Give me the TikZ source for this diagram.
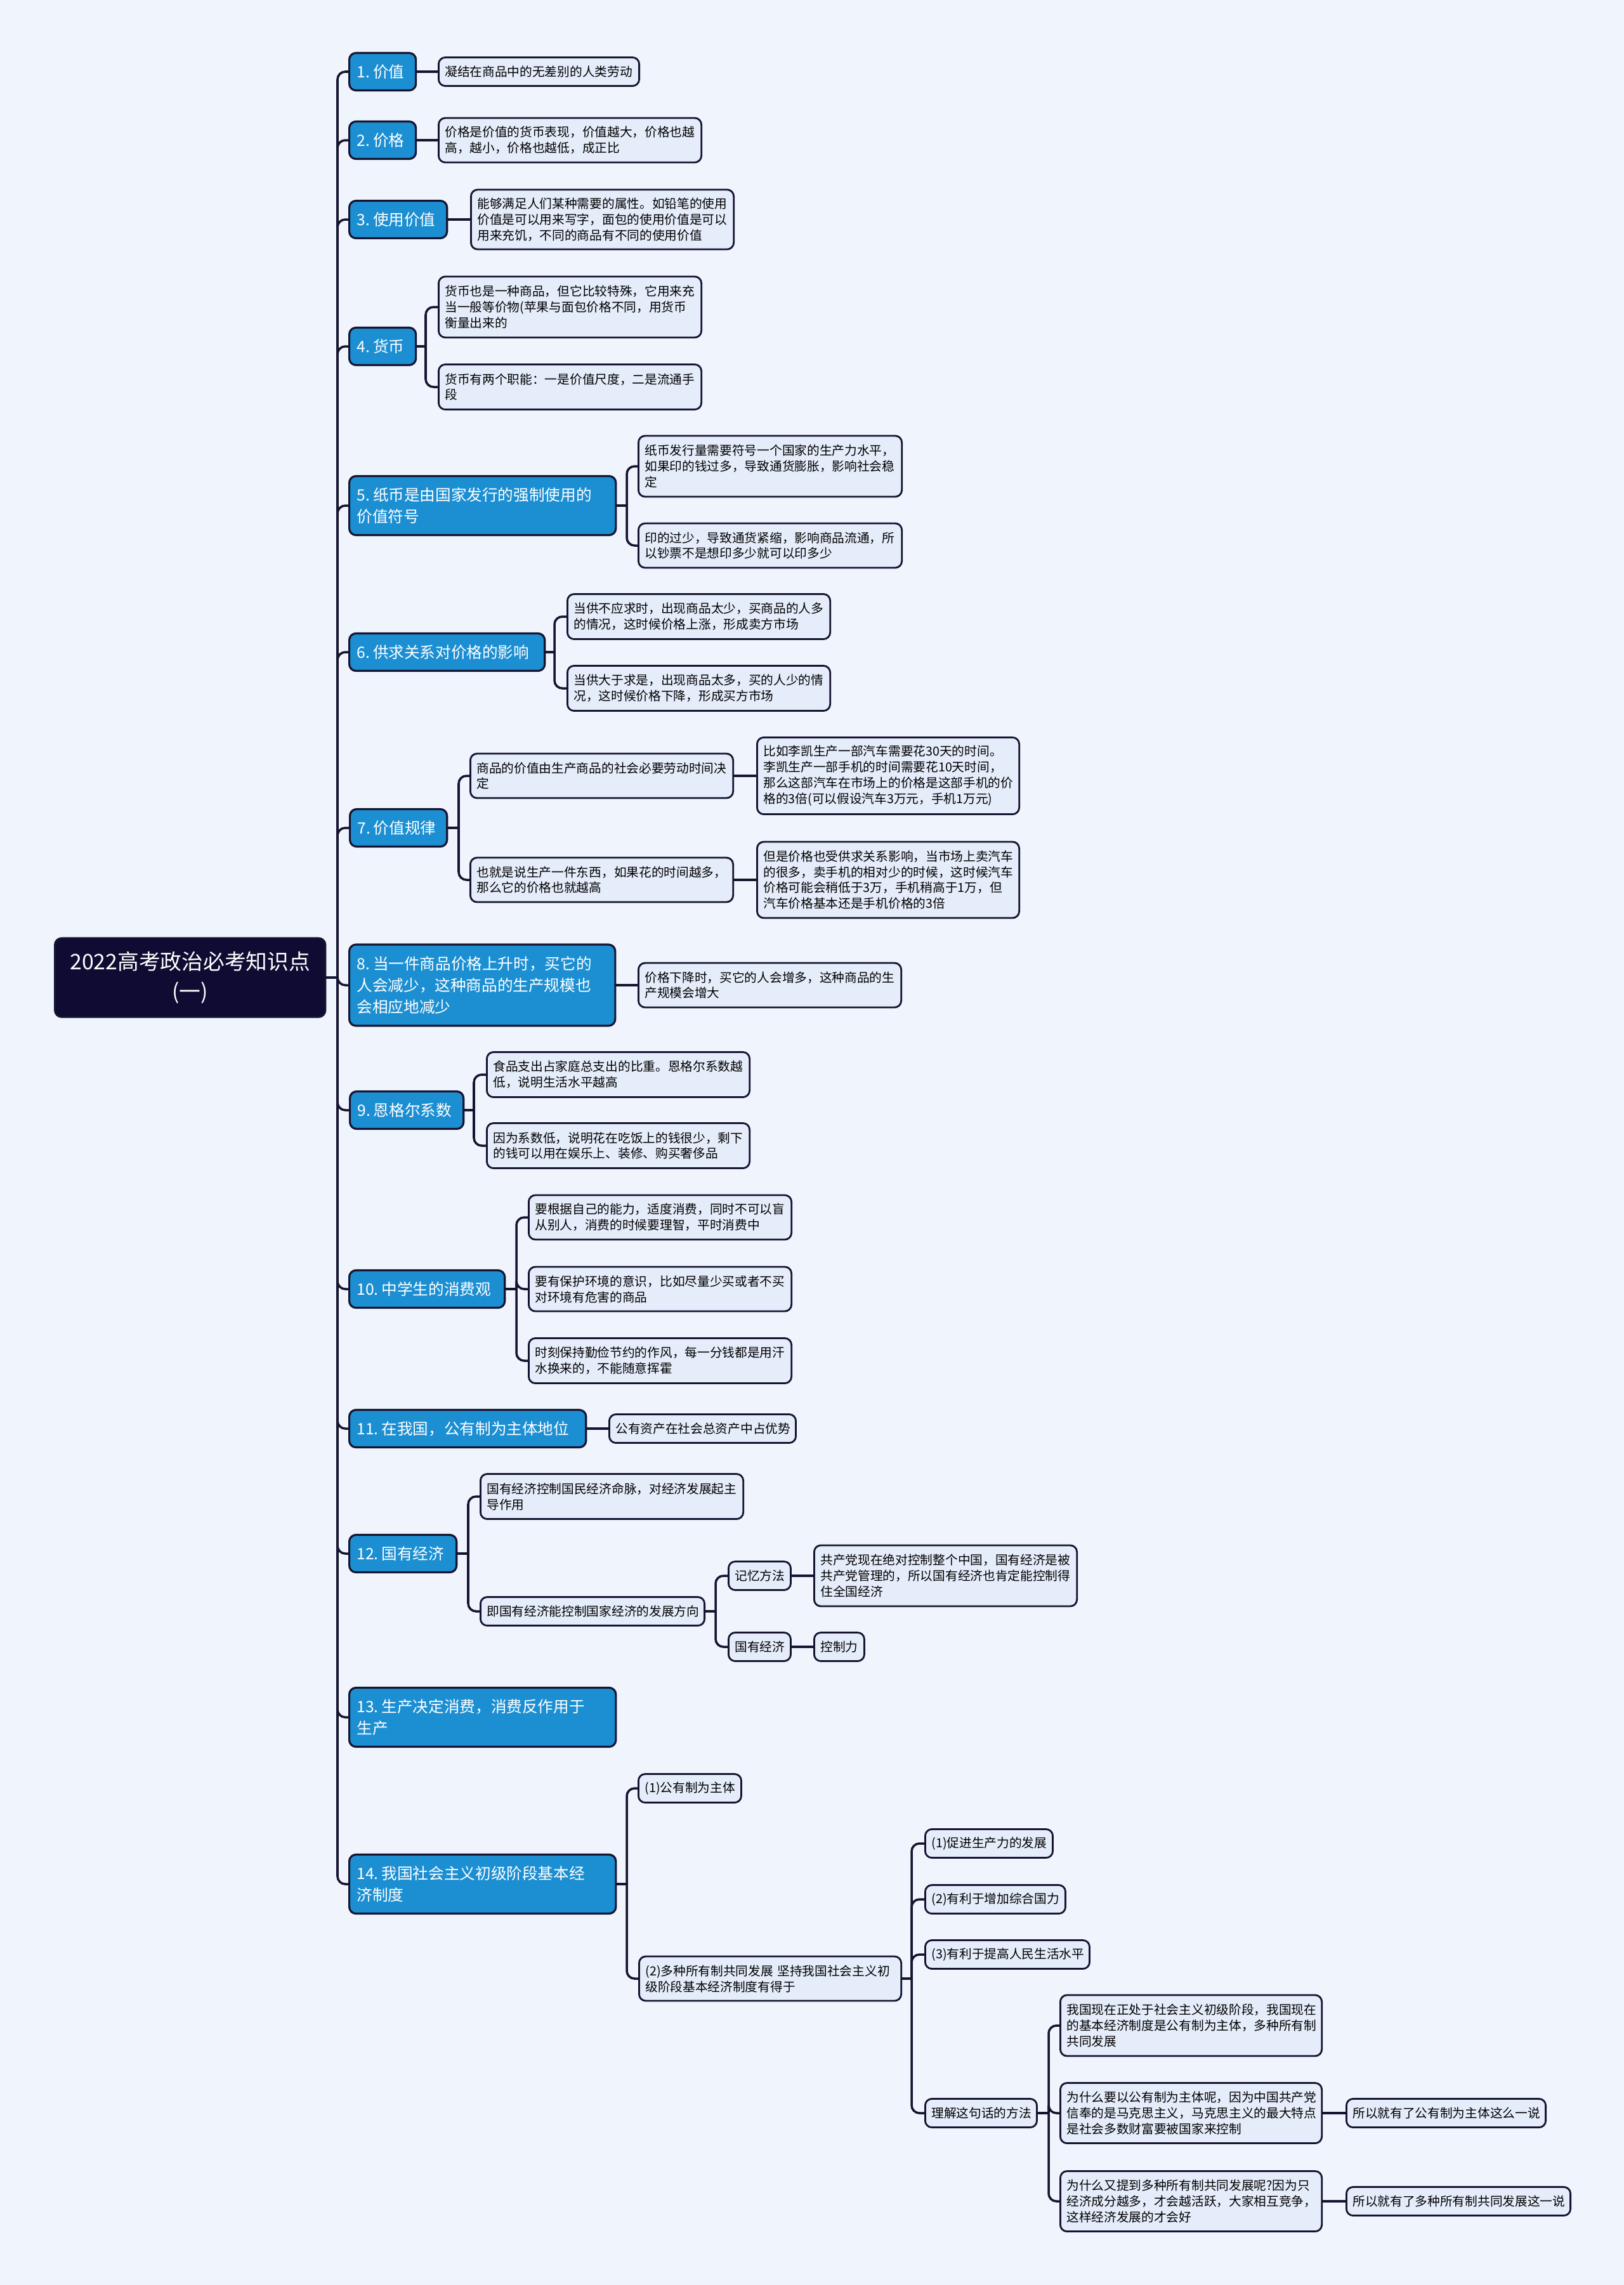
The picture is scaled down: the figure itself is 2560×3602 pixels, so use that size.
\documentclass[tikz,border=0pt]{standalone}
\usepackage{fontspec}
\setmainfont{Noto Sans CJK SC}
\usepackage{tikz}
\usetikzlibrary{positioning, calc}
\definecolor{bgc}{RGB}{239, 244, 253}
\definecolor{rootc}{RGB}{15, 11, 50}
\definecolor{mainc}{RGB}{28, 143, 211}
\definecolor{leafc}{RGB}{229, 237, 251}
\definecolor{linec}{RGB}{22, 20, 48}
\newcommand{\nsp}{\hspace{0.2em}}

\begin{document}
\begin{tikzpicture}[x=0.01cm, y=-0.01cm,
    root/.style={draw=linec, line width=0.9pt, rounded corners=3pt, fill=rootc, text=white,
      font=\fontsize{9.6}{13.3}\selectfont, align=center, anchor=west, inner xsep=0.14cm,
      inner ysep=1pt, minimum height=1.24cm},
    main/.style={draw=linec, line width=0.9pt, rounded corners=3pt, fill=mainc, text=white,
      font=\fontsize{7}{9.6}\selectfont, align=left, anchor=west, inner xsep=0.12cm,
      inner ysep=1pt, minimum height=0.59cm},
    leaf/.style={draw=linec, line width=0.8pt, rounded corners=3pt, fill=leafc, text=black,
      font=\fontsize{5.6}{7.1}\selectfont, align=left, anchor=west, inner xsep=0.1cm,
      inner ysep=1pt, minimum height=0.45cm},
    conn/.style={draw=linec, line width=1pt, rounded corners=3.5pt}]
  \useasboundingbox (0,0) rectangle (2560,3602);
  \fill[bgc] (0,0) rectangle (2560,3602);

  % root and first level
  \node[root, text width=3.98cm] (r) at (85,1541) {2022高考政治必考知识点\\(一)};
  \node[main, text width=0.81cm] (m1) at (549,113) {1.\nsp 价值};
  \node[main, text width=0.81cm] (m2) at (549,221) {2.\nsp 价格};
  \node[main, text width=1.30cm] (m3) at (549,346) {3.\nsp 使用价值};
  \node[main, text width=0.81cm] (m4) at (549,546) {4.\nsp 货币};
  \node[main, text width=3.96cm, minimum height=0.93cm] (m5) at (549,797) {5.\nsp 纸币是由国家发行的强制使用的\\价值符号};
  \node[main, text width=2.84cm] (m6) at (549,1028) {6.\nsp 供求关系对价格的影响};
  \node[main, text width=1.29cm] (m7) at (550,1305) {7.\nsp 价值规律};
  \node[main, text width=3.95cm, minimum height=1.28cm] (m8) at (549,1553) {8.\nsp 当一件商品价格上升时，买它的\\人会减少，这种商品的生产规模也\\会相应地减少};
  \node[main, text width=1.55cm] (m9) at (550,1750) {9.\nsp 恩格尔系数};
  \node[main, text width=2.21cm] (m10) at (549,2032) {10.\nsp 中学生的消费观};
  \node[main, text width=3.49cm] (m11) at (549,2252) {11.\nsp 在我国，公有制为主体地位};
  \node[main, text width=1.45cm] (m12) at (549,2449) {12.\nsp 国有经济};
  \node[main, text width=3.96cm, minimum height=0.93cm] (m13) at (549,2707) {13.\nsp 生产决定消费，消费反作用于\\生产};
  \node[main, text width=3.96cm, minimum height=0.93cm] (m14) at (549,2970) {14.\nsp 我国社会主义初级阶段基本经\\济制度};

  % leaves 1-6
  \node[leaf, text width=2.96cm] (l1) at (690,113) {凝结在商品中的无差别的人类劳动};
  \node[leaf, text width=3.94cm, minimum height=0.70cm] (l2) at (690,221) {价格是价值的货币表现，价值越大，价格也越\\高，越小，价格也越低，成正比};
  \node[leaf, text width=3.94cm, minimum height=0.94cm] (l3) at (741,346) {能够满足人们某种需要的属性。如铅笔的使用\\价值是可以用来写字，面包的使用价值是可以\\用来充饥，不同的商品有不同的使用价值};
  \node[leaf, text width=3.94cm, minimum height=0.96cm] (l4a) at (690,484) {货币也是一种商品，但它比较特殊，它用来充\\当一般等价物(苹果与面包价格不同，用货币\\衡量出来的};
  \node[leaf, text width=3.94cm, minimum height=0.71cm] (l4b) at (690,610) {货币有两个职能：一是价值尺度，二是流通手\\段};
  \node[leaf, text width=3.95cm, minimum height=0.96cm] (l5a) at (1005,735) {纸币发行量需要符号一个国家的生产力水平，\\如果印的钱过多，导致通货膨胀，影响社会稳\\定};
  \node[leaf, text width=3.95cm, minimum height=0.70cm] (l5b) at (1005,860) {印的过少，导致通货紧缩，影响商品流通，所\\以钞票不是想印多少就可以印多少};
  \node[leaf, text width=3.94cm, minimum height=0.71cm] (l6a) at (893,972) {当供不应求时，出现商品太少，买商品的人多\\的情况，这时候价格上涨，形成卖方市场};
  \node[leaf, text width=3.94cm, minimum height=0.71cm] (l6b) at (893,1085) {当供大于求是，出现商品太多，买的人少的情\\况，这时候价格下降，形成买方市场};

  % leaves 7-11
  \node[leaf, text width=3.94cm, minimum height=0.70cm] (l7a) at (740,1223) {商品的价值由生产商品的社会必要劳动时间决\\定};
  \node[leaf, text width=3.94cm, minimum height=0.70cm] (l7b) at (740,1387) {也就是说生产一件东西，如果花的时间越多，\\那么它的价格也就越高};
  \node[leaf, text width=3.93cm, minimum height=1.21cm] (l7c) at (1192,1223) {比如李凯生产一部汽车需要花30天的时间。\\李凯生产一部手机的时间需要花10天时间，\\那么这部汽车在市场上的价格是这部手机的价\\格的3倍(可以假设汽车3万元，手机1万元)};
  \node[leaf, text width=3.93cm, minimum height=1.20cm] (l7d) at (1192,1387) {但是价格也受供求关系影响，当市场上卖汽车\\的很多，卖手机的相对少的时候，这时候汽车\\价格可能会稍低于3万，手机稍高于1万，但\\汽车价格基本还是手机价格的3倍};
  \node[leaf, text width=3.94cm, minimum height=0.70cm] (l8) at (1005,1553) {价格下降时，买它的人会增多，这种商品的生\\产规模会增大};
  \node[leaf, text width=3.94cm, minimum height=0.71cm] (l9a) at (766,1694) {食品支出占家庭总支出的比重。恩格尔系数越\\低，说明生活水平越高};
  \node[leaf, text width=3.94cm, minimum height=0.71cm] (l9b) at (766,1806) {因为系数低，说明花在吃饭上的钱很少，剩下\\的钱可以用在娱乐上、装修、购买奢侈品};
  \node[leaf, text width=3.94cm, minimum height=0.70cm] (l10a) at (832,1919) {要根据自己的能力，适度消费，同时不可以盲\\从别人，消费的时候要理智，平时消费中};
  \node[leaf, text width=3.94cm, minimum height=0.70cm] (l10b) at (832,2032) {要有保护环境的意识，比如尽量少买或者不买\\对环境有危害的商品};
  \node[leaf, text width=3.94cm, minimum height=0.71cm] (l10c) at (832,2145) {时刻保持勤俭节约的作风，每一分钱都是用汗\\水换来的，不能随意挥霍};
  \node[leaf, text width=2.74cm] (l11) at (959,2252) {公有资产在社会总资产中占优势};

  % leaves 12
  \node[leaf, text width=3.94cm, minimum height=0.71cm] (l12a) at (756,2359) {国有经济控制国民经济命脉，对经济发展起主\\导作用};
  \node[leaf, text width=3.33cm] (l12b) at (756,2540) {即国有经济能控制国家经济的发展方向};
  \node[leaf, text width=0.78cm] (l12c) at (1147,2484) {记忆方法};
  \node[leaf, text width=0.78cm] (l12d) at (1147,2596) {国有经济};
  \node[leaf, text width=3.94cm, minimum height=0.96cm] (l12e) at (1282,2484) {共产党现在绝对控制整个中国，国有经济是被\\共产党管理的，所以国有经济也肯定能控制得\\住全国经济};
  \node[leaf, text width=0.59cm] (l12f) at (1282,2596) {控制力};

  % leaves 14
  \node[leaf, text width=1.42cm] (l14a) at (1005,2819) {(1)公有制为主体};
  \node[leaf, text width=3.93cm, minimum height=0.70cm] (l14b) at (1006,3119) {(2)多种所有制共同发展 坚持我国社会主义初\\级阶段基本经济制度有得于};
  \node[leaf, text width=1.81cm] (p1) at (1457,2906) {(1)促进生产力的发展};
  \node[leaf, text width=2.01cm] (p2) at (1457,2994) {(2)有利于增加综合国力};
  \node[leaf, text width=2.39cm] (p3) at (1457,3081) {(3)有利于提高人民生活水平};
  \node[leaf, text width=1.56cm] (p4) at (1457,3331) {理解这句话的方法};
  \node[leaf, text width=3.92cm, minimum height=0.96cm] (q1) at (1670,3193) {我国现在正处于社会主义初级阶段，我国现在\\的基本经济制度是公有制为主体，多种所有制\\共同发展};
  \node[leaf, text width=3.92cm, minimum height=0.95cm] (q2) at (1670,3331) {为什么要以公有制为主体呢，因为中国共产党\\信奉的是马克思主义，马克思主义的最大特点\\是社会多数财富要被国家来控制};
  \node[leaf, text width=3.92cm, minimum height=0.95cm] (q3) at (1670,3470) {为什么又提到多种所有制共同发展呢?因为只\\经济成分越多，才会越活跃，大家相互竞争，\\这样经济发展的才会好};
  \node[leaf, text width=2.94cm] (q2a) at (2121,3331) {所以就有了公有制为主体这么一说};
  \node[leaf, text width=3.33cm] (q3a) at (2121,3470) {所以就有了多种所有制共同发展这一说};

  % junctions
  \coordinate (tr) at (532,1541);
  \coordinate (j4) at (671,546);
  \coordinate (j5) at (988,797);
  \coordinate (j6) at (874,1028);
  \coordinate (j7) at (723,1305);
  \coordinate (j9) at (747,1750);
  \coordinate (j10) at (814,2032);
  \coordinate (j12) at (738,2449);
  \coordinate (j12b) at (1128,2540);
  \coordinate (j14) at (988,2970);
  \coordinate (j14b) at (1437,3119);
  \coordinate (jp4) at (1653,3331);

  % trunk
  \draw[conn] (r) -- (tr);
  \foreach \m in {m1,m2,m3,m4,m5,m6,m7,m8,m9,m10,m11,m12,m13,m14}
    \draw[conn] (tr) |- (\m);

  % straight links
  \draw[conn] (m1) -- (l1);
  \draw[conn] (m2) -- (l2);
  \draw[conn] (m3) -- (l3);
  \draw[conn] (m8) -- (l8);
  \draw[conn] (m11) -- (l11);
  \draw[conn] (l7a) -- (l7c);
  \draw[conn] (l7b) -- (l7d);
  \draw[conn] (l12c) -- (l12e);
  \draw[conn] (l12d) -- (l12f);
  \draw[conn] (q2) -- (q2a);
  \draw[conn] (q3) -- (q3a);

  % forks
  \draw[conn] (m4) -- (j4);
  \draw[conn] (j4) |- (l4a);
  \draw[conn] (j4) |- (l4b);
  \draw[conn] (m5) -- (j5);
  \draw[conn] (j5) |- (l5a);
  \draw[conn] (j5) |- (l5b);
  \draw[conn] (m6) -- (j6);
  \draw[conn] (j6) |- (l6a);
  \draw[conn] (j6) |- (l6b);
  \draw[conn] (m7) -- (j7);
  \draw[conn] (j7) |- (l7a);
  \draw[conn] (j7) |- (l7b);
  \draw[conn] (m9) -- (j9);
  \draw[conn] (j9) |- (l9a);
  \draw[conn] (j9) |- (l9b);
  \draw[conn] (m10) -- (j10);
  \foreach \c in {l10a,l10b,l10c}
    \draw[conn] (j10) |- (\c);
  \draw[conn] (m12) -- (j12);
  \draw[conn] (j12) |- (l12a);
  \draw[conn] (j12) |- (l12b);
  \draw[conn] (l12b) -- (j12b);
  \draw[conn] (j12b) |- (l12c);
  \draw[conn] (j12b) |- (l12d);
  \draw[conn] (m14) -- (j14);
  \draw[conn] (j14) |- (l14a);
  \draw[conn] (j14) |- (l14b);
  \draw[conn] (l14b) -- (j14b);
  \foreach \c in {p1,p2,p3,p4}
    \draw[conn] (j14b) |- (\c);
  \draw[conn] (p4) -- (jp4);
  \foreach \c in {q1,q2,q3}
    \draw[conn] (jp4) |- (\c);
\end{tikzpicture}
\end{document}
